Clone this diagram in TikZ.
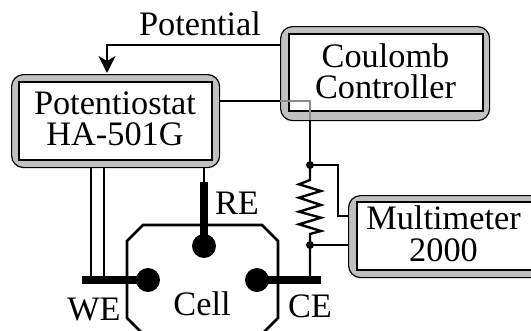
\documentclass[tikz,border=0pt]{standalone}
\usepackage{fontspec}
\setmainfont{Liberation Serif}
\usetikzlibrary{arrows.meta}
\definecolor{framegray}{RGB}{192,192,192}
\tikzset{
  outerbox/.style={draw=black,line width=1.2pt,fill=framegray,rounded corners=12pt,minimum width=#1,anchor=north west,inner sep=0pt},
  innerbox/.style={draw=black,line width=1.2pt,fill=white,anchor=center,inner sep=0pt},
  wire/.style={draw=black,line width=2.4pt},
  bar/.style={draw=black,line width=7.5pt},
  lead/.style={draw=black,line width=2.8pt},
  contact/.style={circle,fill=black,inner sep=0pt,minimum size=24pt},
  junction/.style={circle,fill=black,inner sep=0pt,minimum size=8pt},
  lbl/.style={font=\fontsize{34.3}{34}\selectfont,inner sep=0pt},
  boxtext/.style={font=\fontsize{34.3}{#1}\selectfont,inner sep=0pt,align=center}
}
\begin{document}
\begin{tikzpicture}[x=1pt,y=-1pt]
\useasboundingbox (0,0) rectangle (531,330);
\begin{scope}
\clip (0,0) rectangle (531,330);
% cell
\draw[line width=2.7pt] (143,225) -- (262,225) -- (278,241) -- (278,318) -- (262,334) -- (143,334) -- (127,318) -- (127,241) -- cycle;
% boxes
\node[outerbox=208pt,minimum height=93pt] (potouter) at (11,74) {};
\node[innerbox,minimum width=193pt,minimum height=78pt] (pot) at (115.5,121) {};
\node[outerbox=209pt,minimum height=94pt] (cououter) at (280,26) {};
\node[innerbox,minimum width=194pt,minimum height=77pt] (cou) at (386,72.5) {};
\node[outerbox=200pt,minimum height=82pt] (mulouter) at (348,195) {};
\node[innerbox,minimum width=188pt,minimum height=68pt] (mul) at (451,236) {};
\node[boxtext=31] (pottext) at (115,119) {Potentiostat\\HA-501G};
\node[boxtext=31] (coutext) at (385.5,71) {Coulomb\\Controller};
\node[boxtext=32] (multext) at (443.5,234) {Multimeter\\2000};
% coordinates
\coordinate (arrowstart) at (cououter.west |- 0,45);
\coordinate (arrowbend) at (107,45);
\coordinate (arrowend) at (107,73);
\coordinate (potout) at (potouter.east |- 0,101);
\coordinate (couin) at (cououter.west |- 0,101);
\coordinate (graybend) at (310,101);
\coordinate (grayend) at (310,120);
\node[junction] (j1) at (310,165) {};
\node[junction] (j2) at (310,245) {};
\coordinate (ceTop) at (310,280);
\coordinate (mbend1) at (338,165);
\coordinate (mbend2) at (338,216);
\coordinate (min1) at (mulouter.west |- 0,216);
\coordinate (min2) at (mulouter.west |- 0,245);
\node[contact] (re) at (204,246) {};
\node[contact] (we) at (148,280) {};
\node[contact] (ce) at (257,280) {};
\coordinate (reThinTop) at (204,167);
\coordinate (reThick) at (204,182);
\coordinate (weEnd) at (82,280);
\coordinate (ceEnd) at (321,280);
\coordinate (w1top) at (91,167);
\coordinate (w1bot) at (91,280);
\coordinate (w2top) at (104,167);
\coordinate (w2bot) at (104,280);
% connectors
\draw[wire,-{Stealth[length=17pt,width=17pt,inset=5pt]}] (arrowstart) -- (arrowbend) -- (arrowend);
\draw[wire] (potout) -- (couin);
\draw[draw=gray!90,line width=2.2pt] (couin) -- (graybend) -- (grayend);
\draw[wire] (grayend) -- (j1.center);
\draw[wire,line join=miter] (j1.center) -- (310,180) -- (299,184.3) -- (321,191) -- (299,197.7) -- (321,205) -- (299,211.7) -- (321,217.7) -- (299,224.3) -- (321,231) -- (310,234) -- (j2.center) -- (ceTop);
\draw[wire] (j1.center) -- (mbend1) -- (mbend2) -- (min1);
\draw[wire] (j2.center) -- (min2);
\draw[lead] (w1top) -- (w1bot);
\draw[lead] (w2top) -- (w2bot);
\draw[bar] (weEnd) -- (we.center);
\draw[bar] (ce.center) -- (ceEnd);
\draw[wire] (reThinTop) -- (reThick);
\draw[bar] (reThick) -- (re.center);
% labels
\node[lbl] (tpot) at (200,24) {Potential};
\node[lbl] (tre) at (237,203) {RE};
\node[lbl] (twe) at (94,310) {WE};
\node[lbl] (tcell) at (202,303.5) {Cell};
\node[lbl] (tce) at (310,306.5) {CE};
\end{scope}
\end{tikzpicture}
\end{document}
